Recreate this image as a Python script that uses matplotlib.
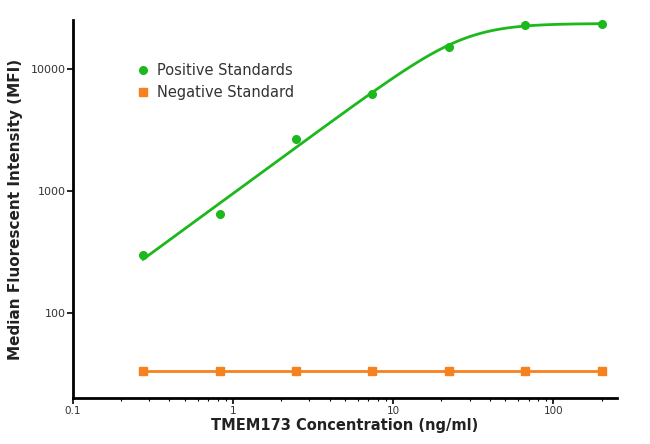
import numpy as np
import matplotlib
matplotlib.use("Agg")
import matplotlib.pyplot as plt
from matplotlib.ticker import LogLocator, FixedLocator, NullFormatter

plt.rcParams['font.family'] = ['DejaVu Sans']

# données
conc = [0.274, 0.823, 2.47, 7.41, 22.2, 66.7, 200.0]
positive_mfi = [297, 644, 2650, 6200, 15100, 22800, 23250]
negative_mfi = [33, 33, 33, 33, 33, 33, 33]

x_ticks = [0.1, 1, 10, 100]
x_tick_labels = ["0.1", "1", "10", "100"]
y_ticks = [100, 1000, 10000]
y_tick_labels = ["100", "1000", "10000"]

GREEN = "#1cb81c"
ORANGE = "#f5821f"


def fit_curve(x, y):
    """Ajustement 5PL (plancher nul) par recherche sur grille, en log."""
    lx = np.log10(np.asarray(x))
    ly = np.log10(np.asarray(y))
    tops = np.log10(np.linspace(22000, 26000, 21))
    cs = np.linspace(-0.5, 2.5, 61)
    bs = np.linspace(1.0, 4.0, 31)
    gs = np.linspace(0.2, 1.2, 41)
    T, C, B, G = np.meshgrid(tops, cs, bs, gs, indexing="ij")
    pred = T[..., None] - G[..., None] * np.log10(
        1 + 10 ** (B[..., None] * (C[..., None] - lx)))
    err = ((pred - ly) ** 2).sum(axis=-1)
    i = np.unravel_index(np.argmin(err), err.shape)
    return T[i], C[i], B[i], G[i]


t, c, b, g = fit_curve(conc, positive_mfi)
xs = np.logspace(np.log10(conc[0]), np.log10(conc[-1]), 300)
ys = 10 ** (t - g * np.log10(1 + 10 ** (b * (c - np.log10(xs)))))

fig = plt.figure(figsize=(6.5, 4.44), dpi=100)
ax = fig.add_axes([0.1123, 0.1036, 0.837, 0.8514])

ax.plot(xs, ys, color=GREEN, lw=2.0, zorder=2)
ax.plot(conc, positive_mfi, 'o', color=GREEN, ms=5.5, zorder=3,
        label="Positive Standards")
ax.plot(conc, negative_mfi, '-', color=ORANGE, lw=2.0, zorder=2)
ax.plot(conc, negative_mfi, 's', color=ORANGE, ms=5.5, zorder=3,
        label="Negative Standard")

ax.set_xscale('log')
ax.set_yscale('log')
ax.set_xlim(0.1, 250)
ax.set_ylim(20, 25000)

ax.xaxis.set_major_locator(FixedLocator(x_ticks))
ax.set_xticklabels(x_tick_labels)
ax.xaxis.set_minor_locator(LogLocator(base=10, subs=np.arange(2, 10)))
ax.xaxis.set_minor_formatter(NullFormatter())
ax.yaxis.set_major_locator(FixedLocator(y_ticks))
ax.set_yticklabels(y_tick_labels)
ax.yaxis.set_minor_locator(FixedLocator([]))

for side in ['top', 'right']:
    ax.spines[side].set_visible(False)
for side in ['left', 'bottom']:
    ax.spines[side].set_linewidth(2)

ax.tick_params(axis='both', which='major', length=4, width=1.2,
               colors='black', labelcolor='#333333')
ax.tick_params(axis='x', which='major', labelsize=7.5, pad=2)
ax.tick_params(axis='y', which='major', labelsize=8, pad=1)
ax.tick_params(axis='x', which='minor', length=2, width=0.8)

ax.set_xlabel("TMEM173 Concentration (ng/ml)", fontsize=10.5,
              fontweight='bold', color='#222222', labelpad=1)
ax.set_ylabel("Median Fluorescent Intensity (MFI)", fontsize=11,
              fontweight='bold', color='#222222', labelpad=6)

ax.legend(loc='upper left', bbox_to_anchor=(0.108, 0.902), frameon=False,
          fontsize=10.5, handlelength=0.7, handletextpad=0.6,
          labelspacing=0.5, labelcolor='#333333', borderaxespad=0)

fig.savefig("out.png", dpi=100)
